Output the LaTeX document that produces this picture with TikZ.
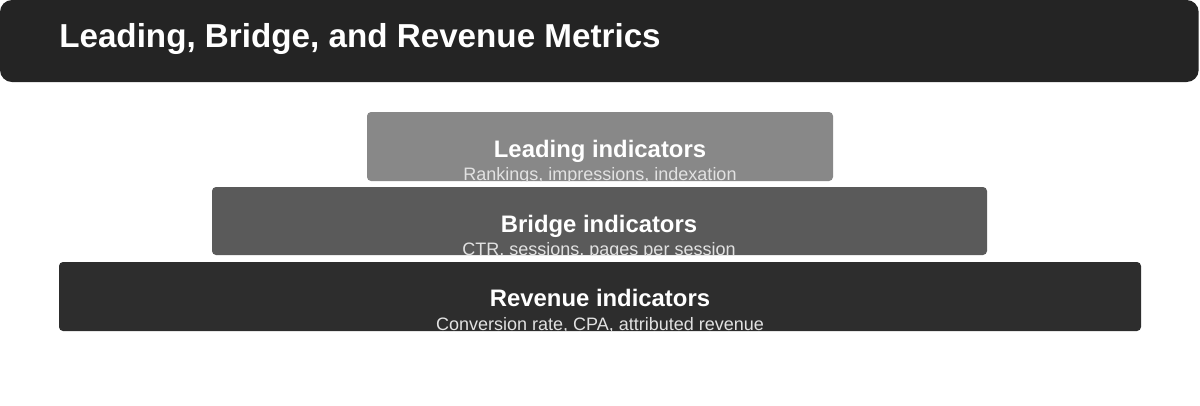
\documentclass[tikz,border=0pt]{standalone}
\usepackage{fontspec}
\setmainfont{Liberation Sans}
\definecolor{titlebg}{HTML}{242424}
\definecolor{leadbg}{HTML}{888888}
\definecolor{bridgebg}{HTML}{5A5A5A}
\definecolor{revbg}{HTML}{2D2D2D}
\definecolor{subtxt}{HTML}{E2E2E2}
\begin{document}
\begin{tikzpicture}[x=0.75pt,y=-0.75pt,
  box/.style={inner sep=0pt, outer sep=0pt, anchor=north west, rounded corners=3pt},
  tiertitle/.style={anchor=base, text=white, font=\bfseries\fontsize{17.9pt}{20pt}\selectfont, inner sep=0pt},
  tiersub/.style={anchor=base, text=subtxt, font=\fontsize{13.5pt}{15pt}\selectfont, inner sep=0pt}]
\useasboundingbox (0,0) rectangle (1200,405);
% title bar
\node[box, fill=titlebg, rounded corners=9pt, minimum width=899pt, minimum height=61.5pt] (titlebar) at (0,0) {};
\node[anchor=base west, text=white, inner sep=0pt, font=\bfseries\fontsize{24.9pt}{28pt}\selectfont] (titletext) at (59,47) {Leading, Bridge, and Revenue Metrics};
% leading
\node[box, fill=leadbg, minimum width=349.5pt, minimum height=51.75pt] (lead) at (367,112) {};
\node[tiertitle] (leadtitle) at (600,157) {Leading indicators};
\begin{scope}
\clip[rounded corners=3pt] (lead.south west) rectangle (lead.north east);
\node[tiersub] (leadsub) at (600,180.5) {Rankings, impressions, indexation};
\end{scope}
% bridge
\node[box, fill=bridgebg, minimum width=581.25pt, minimum height=51pt] (bridge) at (212,187) {};
\node[tiertitle] (bridgetitle) at (599,232) {Bridge indicators};
\begin{scope}
\clip[rounded corners=3pt] (bridge.south west) rectangle (bridge.north east);
\node[tiersub] (bridgesub) at (599,255.5) {CTR, sessions, pages per session};
\end{scope}
% revenue
\node[box, fill=revbg, minimum width=811.5pt, minimum height=51.75pt] (rev) at (59,262) {};
\node[tiertitle] (revtitle) at (600,306) {Revenue indicators};
\begin{scope}
\clip[rounded corners=3pt] (rev.south west) rectangle (rev.north east);
\node[tiersub] (revsub) at (600,330.5) {Conversion rate, CPA, attributed revenue};
\end{scope}
\end{tikzpicture}
\end{document}
